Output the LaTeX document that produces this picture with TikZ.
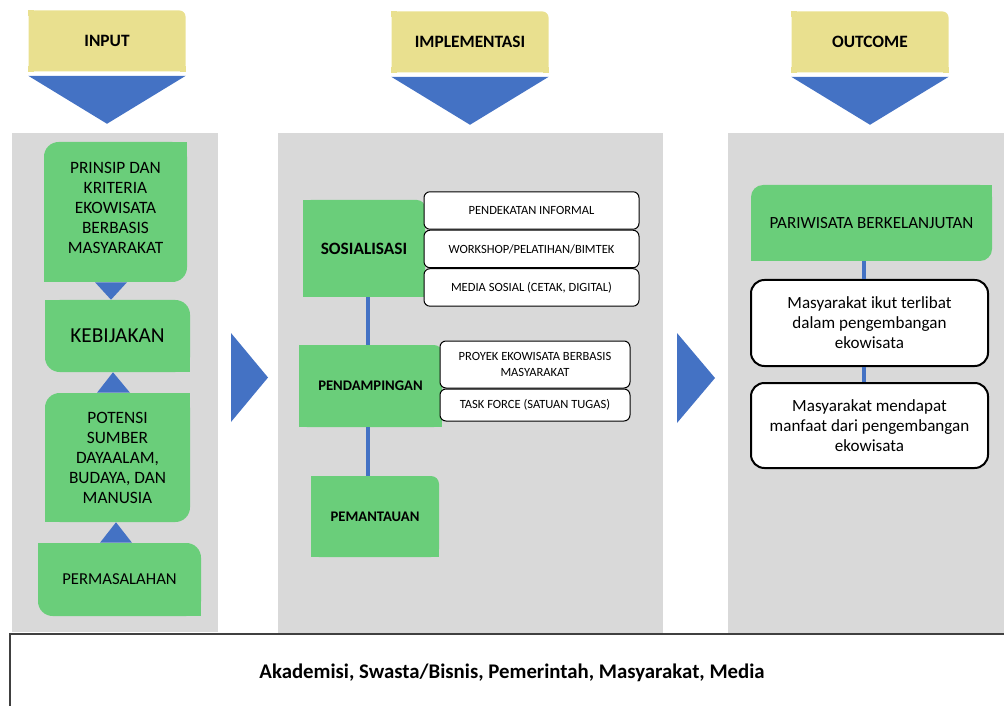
\documentclass[tikz,border=0pt]{standalone}
\usepackage{fontspec}
\setmainfont{Carlito}
\usetikzlibrary{positioning}
\definecolor{headyellow}{HTML}{E9E08F}
\definecolor{arrowblue}{HTML}{4472C4}
\definecolor{boxgreen}{HTML}{6ACE7A}
\definecolor{panelgray}{HTML}{D9D9D9}
\definecolor{edgegray}{HTML}{404040}

\begin{document}
\begin{tikzpicture}[x=0.75pt, y=-0.75pt,
		panel/.style={fill=panelgray, inner sep=0pt},
		header/.style={fill=headyellow, rounded corners=4.5pt, inner sep=0pt, minimum width=117.75pt, minimum height=45.75pt, font=\fontsize{13}{15}\selectfont\bfseries},
		gbox/.style={fill=boxgreen, rounded corners=11pt, inner sep=2pt, align=center, font=\fontsize{13}{15}\selectfont},
		gstep/.style={fill=boxgreen, rounded corners=6pt, inner sep=2pt, align=center, font=\fontsize{11}{13}\selectfont\bfseries},
		wbox/.style={draw, fill=white, rounded corners=4.5pt, line width=0.75pt, inner sep=1pt, align=center, font=\fontsize{9.4}{11.5}\selectfont},
		obox/.style={draw, fill=white, rounded corners=10pt, line width=1.5pt, inner sep=2pt, align=center, font=\fontsize{12.8}{15}\selectfont},
		link/.style={draw=arrowblue, line width=3.5pt},
		tip/.style={fill=arrowblue}
		]
		\useasboundingbox (0,0) rectangle (1004,706);
		
		% grey columns
		\node[panel, minimum width=154.5pt, minimum height=374.25pt] (pin) at (115,382.5) {};
		\node[panel, minimum width=288.75pt, minimum height=375pt] (pimp) at (470.5,383) {};
		\node[panel, minimum width=207pt, minimum height=375pt] (pout) at (866,383) {};
		
		% headers
		\node[header] (hin) at (107,41) {INPUT};
		\node[header] (himp) at (470,42) {IMPLEMENTASI};
		\node[header] (hout) at (870,42) {OUTCOME};
		\foreach \h in {hin,himp,hout}
		\fill[tip] ([yshift=-3pt]\h.south west) -- ([yshift=-3pt]\h.south east) -- ([yshift=-39pt]\h.south) -- cycle;
		\foreach \h in {hin,himp,hout}
		\foreach \a/\sx/\sy in {north west/1/-1, south west/1/1, south east/-1/1}
		\fill[headyellow] (\h.\a) rectangle ++(\sx*4.5pt,\sy*4.5pt);
		
		% input column
		\node[gbox, minimum width=107.25pt, minimum height=105pt] (prinsip) at (115.5,212) {PRINSIP DAN\\KRITERIA\\EKOWISATA\\BERBASIS\\MASYARAKAT\\[-9pt]};
		\node[gbox, minimum width=108.75pt, minimum height=54pt, font=\fontsize{16}{19}\selectfont] (keb) at (117.5,336) {KEBIJAKAN};
		\node[gbox, minimum width=108.75pt, minimum height=96.75pt] (potensi) at (117.5,457.5) {POTENSI\\SUMBER\\DAYAALAM,\\BUDAYA, DAN\\MANUSIA};
		\node[gbox, minimum width=122.25pt, minimum height=54.75pt, font=\fontsize{12.5}{15}\selectfont] (perm) at (119.5,579.5) {PERMASALAHAN};
		
		% implementation column
		\node[gstep, minimum width=91.5pt, minimum height=72.75pt, font=\fontsize{13}{15}\selectfont\bfseries] (sos) at (364,248.5) {SOSIALISASI};
		\node[gstep, minimum width=107.25pt, minimum height=61.5pt] (pend) at (370.5,386) {PENDAMPINGAN};
		\node[gstep, minimum width=96pt, minimum height=60.75pt] (pem) at (375,516.5) {PEMANTAUAN};
		
		% outcome column
		\node[gbox, rounded corners=9pt, minimum width=180.75pt, minimum height=57pt, font=\fontsize{12.8}{15}\selectfont] (pari) at (871.5,223) {PARIWISATA BERKELANJUTAN};
		
		\foreach \n/\a/\sx/\sy in {prinsip/north east/-1/-1, prinsip/south west/1/1, keb/north west/1/-1, keb/south east/-1/1, potensi/north east/-1/-1, potensi/south west/1/1, perm/north west/1/-1, perm/south east/-1/1, pari/north east/-1/-1, pari/south west/1/1}
		\fill[boxgreen] (\n.\a) rectangle ++(\sx*11pt,\sy*11pt);
		\foreach \n in {sos,pend,pem}
		\foreach \a/\sx/\sy in {north west/1/-1, south west/1/1, south east/-1/1}
		\fill[boxgreen] (\n.\a) rectangle ++(\sx*6pt,\sy*6pt);
		
		% small pointers in the input column
		\fill[tip] (95,0 |- prinsip.south) -- (127,0 |- prinsip.south) -- (111,0 |- keb.north) -- cycle;
		\fill[tip] (97,0 |- potensi.north) -- (130,0 |- potensi.north) -- (113,0 |- keb.south) -- cycle;
		\fill[tip] (100,0 |- perm.north) -- (132,0 |- perm.north) -- (116,0 |- potensi.south) -- cycle;
		
		% connectors
		\draw[link] (368,0 |- sos.south) -- (368,0 |- pend.north);
		\draw[link] (368,0 |- pend.south) -- (368,0 |- pem.north);
		
		% detail boxes
		\node[wbox, minimum width=161.25pt, minimum height=28.1pt] (w1) at (531.5,210.5) {PENDEKATAN INFORMAL};
		\node[wbox, minimum width=161.25pt, minimum height=28.1pt, below=0pt of w1] (w2) {WORKSHOP/PELATIHAN/BIMTEK};
		\node[wbox, minimum width=161.25pt, minimum height=28.1pt, below=0pt of w2] (w3) {MEDIA SOSIAL (CETAK, DIGITAL)};
		\node[wbox, minimum width=142.5pt, minimum height=35.25pt] (w4) at (535,364.5) {PROYEK EKOWISATA BERBASIS\\MASYARAKAT};
		\node[wbox, minimum width=142.5pt, minimum height=24pt, below=0pt of w4] (w5) {TASK FORCE (SATUAN TUGAS)};
		
		\node[obox, minimum width=177.75pt, minimum height=64.5pt] (m1) at (869.5,323) {Masyarakat ikut terlibat\\dalam pengembangan\\ekowisata};
		\node[obox, minimum width=177.75pt, minimum height=63.75pt] (m2) at (869.5,425.5) {Masyarakat mendapat\\manfaat dari pengembangan\\ekowisata};
		\draw[link] (864,0 |- pari.south) -- (864,0 |- m1.north);
		\draw[link] (864,0 |- m1.south) -- (864,0 |- m2.north);
		
		% flow arrows between columns
		\fill[tip] (231,333) -- (268,377.5) -- (231,422) -- cycle;
		\fill[tip] (677,333) -- (715,378) -- (677,423) -- cycle;
		
		% stakeholders
		\node[draw=edgegray, line width=1.1pt, minimum width=753pt, minimum height=58.5pt, font=\fontsize{15.6}{18}\selectfont\bfseries] (actors) at (512,673) {Akademisi, Swasta/Bisnis, Pemerintah, Masyarakat, Media};
		
\end{tikzpicture}
\end{document}
